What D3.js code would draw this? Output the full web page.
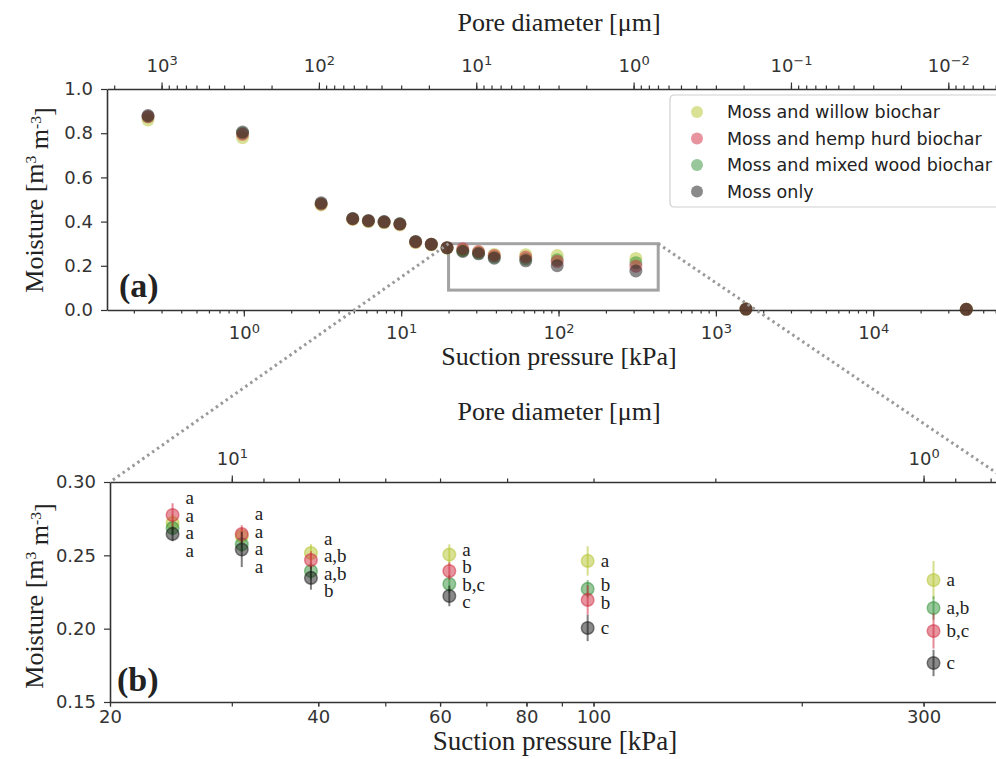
<!DOCTYPE html>
<html>
<head>
<meta charset="utf-8">
<script src="https://cdn.jsdelivr.net/npm/d3@7"></script>
<style>
  body { margin: 0; background: #fff; }
  svg { display: block; }
</style>
</head>
<body>
<div id="chart"></div>
<script>
// suction pressure of each measurement step [kPa]
var suction = [0.246, 0.981, 3.10, 4.92, 6.19, 7.79, 9.81, 12.35, 15.54, 19.57,
               24.63, 31.01, 39.04, 61.88, 98.07, 310.1, 1554, 39041];

var seriesNames = ["Moss and willow biochar", "Moss and hemp hurd biochar",
                   "Moss and mixed wood biochar", "Moss only"];
var seriesColors = ["#b3c42c", "#d02a40", "#2f8f35", "#151515"];

// moisture [m3 m-3]
var willow   = [0.860, 0.780, 0.475, 0.410, 0.400, 0.395, 0.385, 0.305, 0.295, 0.280,
                0.272, 0.263, 0.2516, 0.2505, 0.2462, 0.2332, 0.004, 0.003];
var hemp     = [0.875, 0.795, 0.480, 0.412, 0.403, 0.398, 0.388, 0.308, 0.297, 0.282,
                0.2775, 0.2645, 0.2468, 0.2393, 0.2196, 0.1984, 0.004, 0.003];
var mixed    = [0.875, 0.800, 0.480, 0.413, 0.403, 0.398, 0.390, 0.309, 0.297, 0.281,
                0.2686, 0.2575, 0.2393, 0.2305, 0.2271, 0.2141, 0.004, 0.003];
var mossOnly = [0.880, 0.805, 0.485, 0.414, 0.405, 0.400, 0.390, 0.310, 0.298, 0.282,
                0.2646, 0.2540, 0.2346, 0.2223, 0.2005, 0.1766, 0.004, 0.003];

// standard deviation for the zoomed points (24.6 .. 310 kPa)
var willowErr   = [0.006, 0.006, 0.006, 0.007, 0.010, 0.013];
var hempErr     = [0.008, 0.006, 0.006, 0.006, 0.010, 0.012];
var mixedErr    = [0.005, 0.005, 0.006, 0.006, 0.006, 0.008];
var mossOnlyErr = [0.005, 0.012, 0.008, 0.007, 0.009, 0.009];

// significance letters for the zoomed points
var willowLetters   = ["a", "a", "a",   "a",   "a", "a"];
var hempLetters     = ["a", "a", "a,b", "b",   "b", "b,c"];
var mixedLetters    = ["a", "a", "a,b", "b,c", "b", "a,b"];
var mossOnlyLetters = ["a", "a", "b",   "c",   "c", "c"];

var xDomainA = [0.135, 74000];
var xDomainB = [20, 400];
var yDomainB = [0.15, 0.30];
var zoomRect = [20, 430, 0.09, 0.30];   // rectangle drawn in panel (a)
var poreConst = 300;                     // pore diameter [um] = 300 / suction [kPa]

var values = [willow, hemp, mixed, mossOnly];
var errs = [willowErr, hempErr, mixedErr, mossOnlyErr];
var letters = [willowLetters, hempLetters, mixedLetters, mossOnlyLetters];
var drawOrder = [0, 2, 1, 3];

var W = 996, H = 759;
var svg = d3.select("#chart").append("svg").attr("width", W).attr("height", H);

var ax = {left: 107, right: 1010, top: 89, bottom: 310};
var bx = {left: 110, right: 1010, top: 482, bottom: 702};

var xA = d3.scaleLog().domain(xDomainA).range([ax.left, ax.right]);
var yA = d3.scaleLinear().domain([0, 1]).range([ax.bottom, ax.top]);
var poreA = d3.scaleLog().domain([poreConst / xDomainA[0], poreConst / xDomainA[1]]).range([ax.left, ax.right]);

var xB = d3.scaleLog().domain(xDomainB).range([bx.left, bx.right]);
var yB = d3.scaleLinear().domain(yDomainB).range([bx.bottom, bx.top]);
var poreB = d3.scaleLog().domain([poreConst / xDomainB[0], poreConst / xDomainB[1]]).range([bx.left, bx.right]);

var tickFont = "'DejaVu Sans', sans-serif";
var serif = "'Liberation Serif', 'Times New Roman', serif";

function logTicks(a, b) {
    var lo = Math.min(a, b), hi = Math.max(a, b), out = [];
    for (var e = Math.floor(Math.log10(lo)); e <= Math.ceil(Math.log10(hi)); e++) {
        for (var m = 1; m < 10; m++) {
            var v = +(m * Math.pow(10, e)).toPrecision(6);
            if (v >= lo * 0.9999 && v <= hi * 1.0001) out.push(v);
        }
    }
    return out;
}

function styleAxis(g) {
    g.select(".domain").attr("stroke", "#333").attr("stroke-width", 1.6);
    g.selectAll(".tick line").attr("stroke", "#333").attr("stroke-width", 1.2);
    g.selectAll(".tick text").attr("fill", "#333")
        .style("font-family", tickFont).style("font-size", "18px");
}

function powLabels(g) {
    g.selectAll(".tick text").text("").each(function(d) {
        var t = d3.select(this);
        var e = Math.round(Math.log10(d));
        t.append("tspan").text("10");
        t.append("tspan").attr("dy", "-0.5em").style("font-size", "13px")
            .text(String(e).replace("-", "\u2212"));
    });
}

// log axis: minor ticks everywhere, longer labelled ticks at the given values
function logAxis(axisFn, scale, transform, all, major, majorLen, minorLen, pad, fmt, sup) {
    svg.append("g").attr("transform", transform)
        .call(axisFn(scale).tickValues(all).tickSize(minorLen).tickFormat("").tickSizeOuter(0))
        .call(styleAxis);
    var g = svg.append("g").attr("transform", transform)
        .call(axisFn(scale).tickValues(major).tickSize(majorLen).tickPadding(pad).tickFormat(fmt).tickSizeOuter(0))
        .call(styleAxis);
    g.select(".domain").remove();
    if (sup) g.call(powLabels);
    return g;
}

function decades(scale) {
    return logTicks(scale.domain()[0], scale.domain()[1]).filter(function(v) {
        return Math.abs(Math.log10(v) - Math.round(Math.log10(v))) < 1e-9;
    });
}

function yLabel(x, y, size) {
    var t = svg.append("text")
        .attr("transform", "translate(" + x + "," + y + ") rotate(-90)")
        .attr("text-anchor", "middle")
        .style("font-family", serif).style("font-size", size + "px").attr("fill", "#222");
    t.append("tspan").text("Moisture [m");
    t.append("tspan").attr("dy", "-0.45em").style("font-size", "0.6em").text("3");
    t.append("tspan").attr("dy", "0.45em").text(" m");
    t.append("tspan").attr("dy", "-0.45em").style("font-size", "0.6em").text("-3");
    t.append("tspan").attr("dy", "0.45em").text("]");
}

function title(x, y, size, txt) {
    svg.append("text").attr("x", x).attr("y", y).attr("text-anchor", "middle")
        .style("font-family", serif).style("font-size", size + "px").attr("fill", "#222")
        .text(txt);
}

// ---------------- panel (a) ----------------
logAxis(d3.axisBottom, xA, "translate(0," + ax.bottom + ")",
        logTicks(xDomainA[0], xDomainA[1]), decades(xA), 6.5, 3.5, 10, null, true);
logAxis(d3.axisTop, poreA, "translate(0," + ax.top + ")",
        logTicks(poreA.domain()[0], poreA.domain()[1]), decades(poreA), 6.5, 3.5, 11, null, true);

svg.append("g").attr("transform", "translate(" + ax.left + ",0)")
    .call(d3.axisLeft(yA).tickValues([0, 0.2, 0.4, 0.6, 0.8, 1.0]).tickFormat(d3.format(".1f"))
        .tickSize(6).tickPadding(8).tickSizeOuter(0))
    .call(styleAxis);

// zoom rectangle
svg.append("rect")
    .attr("x", xA(zoomRect[0])).attr("y", yA(zoomRect[3]))
    .attr("width", xA(zoomRect[1]) - xA(zoomRect[0]))
    .attr("height", yA(zoomRect[2]) - yA(zoomRect[3]))
    .attr("fill", "none").attr("stroke", "#a3a3a3").attr("stroke-width", 3);

var dotsA = svg.append("g");
drawOrder.forEach(function(s) {
    dotsA.selectAll(null)
        .data(suction.map(function(x, i) { return {x: x, y: values[s][i]}; }))
        .enter().append("circle")
        .attr("cx", function(d) { return xA(d.x); })
        .attr("cy", function(d) { return yA(d.y); })
        .attr("r", 6.5)
        .attr("fill", seriesColors[s]).attr("fill-opacity", 0.5);
});

svg.append("text").attr("x", 119).attr("y", 297)
    .style("font-family", serif).style("font-size", "34px").style("font-weight", "bold")
    .attr("fill", "#222").text("(a)");

title(559, 31, 26, "Pore diameter [\u03bcm]");
title(559, 365, 26, "Suction pressure [kPa]");
yLabel(43, 200, 26);

// legend
var leg = svg.append("g").attr("transform", "translate(670,95)");
leg.append("rect").attr("width", 345).attr("height", 112).attr("rx", 4)
    .attr("fill", "#fff").attr("fill-opacity", 0.85).attr("stroke", "#d0d0d0").attr("stroke-width", 1.2);
seriesNames.forEach(function(name, i) {
    var gy = 17 + i * 26.5;
    leg.append("circle").attr("cx", 27).attr("cy", gy).attr("r", 6)
        .attr("fill", seriesColors[i]).attr("fill-opacity", 0.5);
    leg.append("text").attr("x", 57).attr("y", gy).attr("dy", "0.36em")
        .style("font-family", tickFont).style("font-size", "17.5px").attr("fill", "#222")
        .text(name);
});

// ---------------- panel (b) ----------------
logAxis(d3.axisBottom, xB, "translate(0," + bx.bottom + ")",
        logTicks(xDomainB[0], xDomainB[1]), [20, 40, 60, 80, 100, 300], 4.5, 4.5, 4, d3.format("d"), false);
logAxis(d3.axisTop, poreB, "translate(0," + bx.top + ")",
        logTicks(poreB.domain()[0], poreB.domain()[1]), decades(poreB), 6.5, 3.5, 11, null, true);

svg.append("g").attr("transform", "translate(" + bx.left + ",0)")
    .call(d3.axisLeft(yB).tickValues([0.15, 0.20, 0.25, 0.30]).tickFormat(d3.format(".2f"))
        .tickSize(6).tickPadding(8).tickSizeOuter(0))
    .call(styleAxis);

var zoomIdx = suction.map(function(s, i) { return i; })
    .filter(function(i) { return suction[i] >= xDomainB[0] && suction[i] <= xDomainB[1]; });

var plotB = svg.append("g");
drawOrder.forEach(function(s) {
    var pts = zoomIdx.map(function(i, j) {
        return {x: suction[i], y: values[s][i], e: errs[s][j]};
    });
    var g = plotB.append("g");
    g.selectAll("line").data(pts).enter().append("line")
        .attr("x1", function(d) { return xB(d.x); }).attr("x2", function(d) { return xB(d.x); })
        .attr("y1", function(d) { return yB(d.y - d.e); }).attr("y2", function(d) { return yB(d.y + d.e); })
        .attr("stroke", seriesColors[s]).attr("stroke-opacity", 0.55).attr("stroke-width", 2);
    g.selectAll("circle").data(pts).enter().append("circle")
        .attr("cx", function(d) { return xB(d.x); })
        .attr("cy", function(d) { return yB(d.y); })
        .attr("r", 6.3)
        .attr("fill", seriesColors[s]).attr("fill-opacity", 0.5)
        .attr("stroke", seriesColors[s]).attr("stroke-opacity", 0.5).attr("stroke-width", 1.5);
});

// letters: start at marker height, push overlapping ones apart
var gap = 17.5;
zoomIdx.forEach(function(i, j) {
    var items = [0, 1, 2, 3].map(function(s) {
        return {s: s, y0: yB(values[s][i])};
    }).sort(function(a, b) { return a.y0 - b.y0; });
    var clusters = items.map(function(it) { return {items: [it], c: it.y0}; });
    var merged = true;
    while (merged) {
        merged = false;
        for (var k = 0; k < clusters.length - 1; k++) {
            var a = clusters[k], b = clusters[k + 1];
            var aEnd = a.c + (a.items.length - 1) * gap / 2;
            var bStart = b.c - (b.items.length - 1) * gap / 2;
            if (bStart - aEnd < gap) {
                var its = a.items.concat(b.items);
                clusters.splice(k, 2, {items: its, c: d3.mean(its, function(d) { return d.y0; })});
                merged = true;
                break;
            }
        }
    }
    clusters.forEach(function(c) {
        c.items.forEach(function(it, n) {
            svg.append("text")
                .attr("x", xB(suction[i]) + 13)
                .attr("y", c.c + (n - (c.items.length - 1) / 2) * gap)
                .attr("dy", "0.3em")
                .style("font-family", serif).style("font-size", "19px").attr("fill", "#222")
                .text(letters[it.s][j]);
        });
    });
});

svg.append("text").attr("x", 117).attr("y", 691)
    .style("font-family", serif).style("font-size", "34px").style("font-weight", "bold")
    .attr("fill", "#222").text("(b)");

title(559, 420, 26, "Pore diameter [\u03bcm]");
title(555, 750, 27, "Suction pressure [kPa]");
yLabel(43, 596, 26);

// dotted connectors between the rectangle and panel (b)
var connectors = [
    [[xA(zoomRect[0]), yA(zoomRect[3])], [xB(xDomainB[0]), yB(yDomainB[1])]],
    [[xA(zoomRect[1]), yA(zoomRect[3])], [xB(xDomainB[1]), yB(yDomainB[1])]]
];
svg.selectAll(".connector").data(connectors).enter().append("line")
    .attr("class", "connector")
    .attr("x1", function(d) { return d[0][0]; }).attr("y1", function(d) { return d[0][1]; })
    .attr("x2", function(d) { return d[1][0]; }).attr("y2", function(d) { return d[1][1]; })
    .attr("stroke", "#9a9a9a").attr("stroke-width", 3).attr("stroke-dasharray", "2.5,3.5");
</script>
</body>
</html>
